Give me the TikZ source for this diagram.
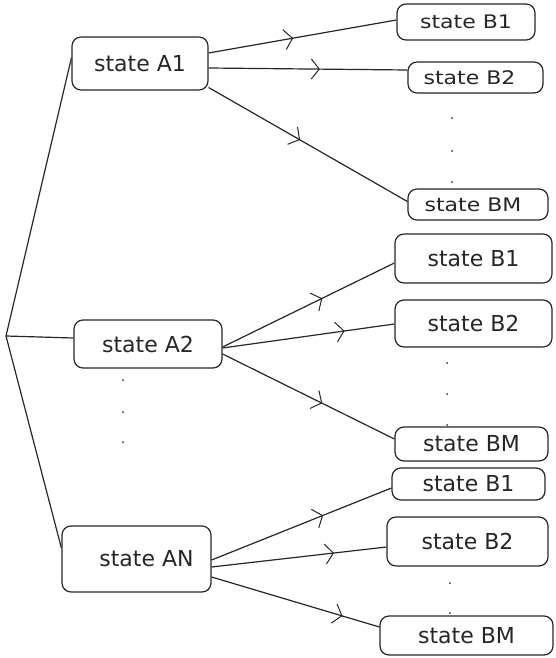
\documentclass[tikz,border=0pt]{standalone}
\usepackage{fontspec}
\usepackage{graphicx}
\setmainfont{DejaVu Sans}
\usetikzlibrary{arrows.meta,decorations.markings}
\tikzset{
  box/.style={draw=black!85, line width=1.2pt, rounded corners=9pt, inner sep=0pt,
              font=\fontsize{22}{24}\selectfont, text=black!85},
  link/.style={draw=black!85, line width=1.2pt},
  midarr/.style={postaction={decorate}, decoration={markings,
      mark=at position #1 with {\arrow{Straight Barb[length=8pt,width=20pt,line width=1pt]}}}},
  dotmark/.style={fill=black!80, circle, inner sep=0pt, minimum size=2pt}
}
\newcommand{\squash}[1]{\scalebox{1}[0.85]{#1}}
\begin{document}
\begin{tikzpicture}[x=1pt,y=-1pt]
\useasboundingbox (0,0) rectangle (556,658);
% A nodes
\node[box, minimum width=136pt, minimum height=53pt] (A1) at (140,63.5) {state A1};
\node[box, minimum width=148pt, minimum height=48pt] (A2) at (148,344) {state A2};
\node[box, minimum width=149pt, minimum height=66pt] (AN) at (136.5,559) {\hspace*{20pt}state AN};
\coordinate (R) at (6,336);
% top B group
\node[box, minimum width=138pt, minimum height=36pt] (B1t) at (466,22) {\squash{state B1}};
\node[box, minimum width=135pt, minimum height=31pt] (B2t) at (475.5,77.5) {\squash{state B2}\hspace*{12pt}};
\node[box, minimum width=140pt, minimum height=31pt] (BMt) at (478,204.5) {\squash{state BM}\hspace*{10pt}};
\node[dotmark] (dt1) at (452,118) {};
\node[dotmark] (dt2) at (452,151) {};
\node[dotmark] (dt3) at (452,182) {};
% middle B group
\node[box, minimum width=157pt, minimum height=49pt] (B1m) at (473.5,258.5) {state B1};
\node[box, minimum width=157pt, minimum height=47pt] (B2m) at (473.5,323.5) {state B2};
\node[box, minimum width=153pt, minimum height=34pt] (BMm) at (471.5,444) {state BM};
\node[dotmark] (dm1) at (447,363) {};
\node[dotmark] (dm2) at (447,394) {};
\node[dotmark] (dm3) at (447,425) {};
% bottom B group
\node[box, minimum width=153pt, minimum height=32pt] (B1b) at (468.5,484) {state B1};
\node[box, minimum width=161pt, minimum height=49pt] (B2b) at (467.5,541.5) {state B2};
\node[box, minimum width=173pt, minimum height=39pt] (BMb) at (466.5,635.5) {state BM};
\node[dotmark] (db1) at (450,583) {};
\node[dotmark] (db2) at (450,613) {};
% dots under A2
\node[dotmark] (da1) at (123,380) {};
\node[dotmark] (da2) at (123,412) {};
\node[dotmark] (da3) at (123,442) {};
% root links
\draw[link] (R) -- ([yshift=5.5pt]A1.west);
\draw[link] (R) -- ([yshift=6pt]A2.west);
\draw[link] (R) -- ([yshift=11pt]AN.west);
% A1 links
\draw[link, midarr=0.45] ([yshift=10.5pt]A1.east) -- ([yshift=2pt]B1t.west);
\draw[link, midarr=0.56] ([yshift=-4.5pt]A1.east) -- ([yshift=7.5pt]B2t.west);
\draw[link, midarr=0.46] ([yshift=-24pt]A1.east) -- ([yshift=3pt]BMt.west);
% A2 links
\draw[link, midarr=0.58] ([yshift=-3pt]A2.east) -- ([yshift=-4.5pt]B1m.west);
\draw[link, midarr=0.71] ([yshift=-4pt]A2.east) -- ([yshift=-0.5pt]B2m.west);
\draw[link, midarr=0.58] ([yshift=-10pt]A2.east) -- ([yshift=5pt]BMm.west);
% AN links
\draw[link, midarr=0.62] ([yshift=-1pt]AN.east) -- ([yshift=-4pt]B1b.west);
\draw[link, midarr=0.70] ([yshift=-8pt]AN.east) -- ([yshift=-5.5pt]B2b.west);
\draw[link, midarr=0.78] ([yshift=-18pt]AN.east) -- ([yshift=8.5pt]BMb.west);
\end{tikzpicture}
\end{document}
